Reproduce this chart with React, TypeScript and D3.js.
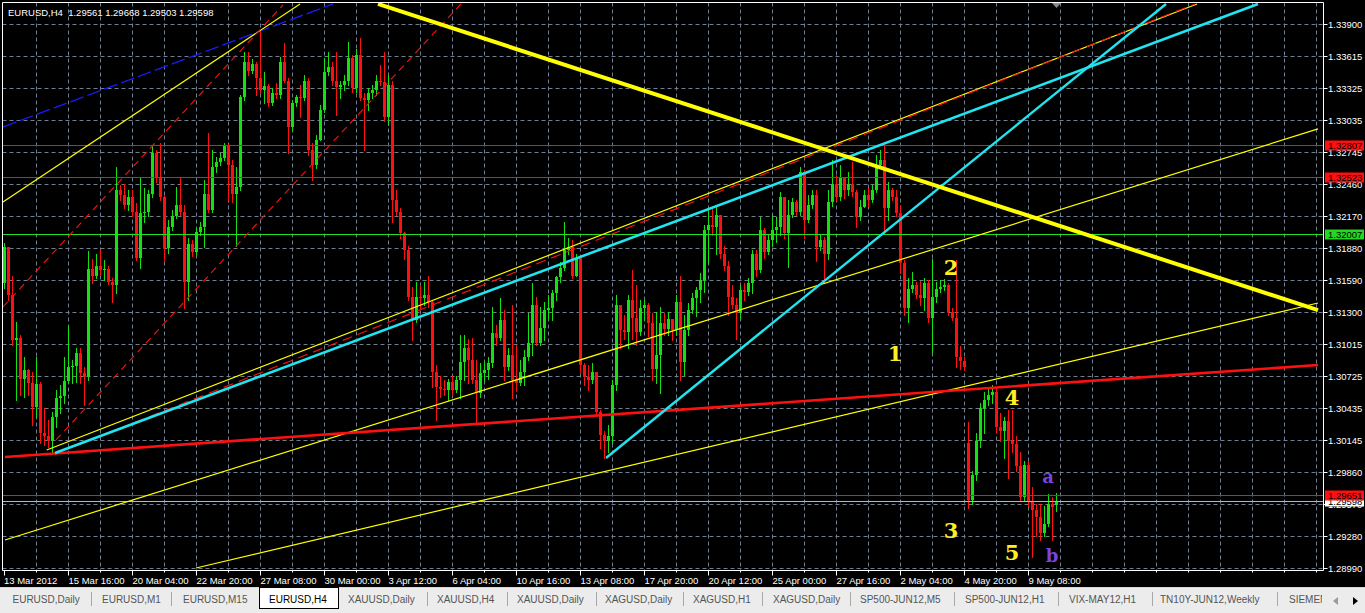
import React from 'react';
import * as d3 from 'd3';

const W = 1365;
const H = 613;

// ---- DATA ----
const symbolTitle = 'EURUSD,H4';
const lastOHLC = ['1.29561', '1.29668', '1.29503', '1.29598'];

const closes = [
  1.3189, 1.3145, 1.3105, 1.3107, 1.3070, 1.3078, 1.3066, 1.3044, 1.3065, 1.3021,
  1.3018, 1.3014, 1.3035, 1.3052, 1.3054, 1.3068, 1.3080, 1.3081, 1.3093, 1.3075,
  1.3071, 1.3169, 1.3163, 1.3172, 1.3168, 1.3169, 1.3157, 1.3154, 1.3240, 1.3236,
  1.3227, 1.3234, 1.3220, 1.3179, 1.3219, 1.3220, 1.3237, 1.3274, 1.3251, 1.3234,
  1.3188, 1.3207, 1.3217, 1.3227, 1.3220, 1.3157, 1.3191, 1.3184, 1.3202, 1.3207,
  1.3237, 1.3222, 1.3261, 1.3265, 1.3269, 1.3280, 1.3263, 1.3237, 1.3243, 1.3324,
  1.3356, 1.3348, 1.3354, 1.3341, 1.3330, 1.3334, 1.3319, 1.3328, 1.3326, 1.3356,
  1.3339, 1.3297, 1.3319, 1.3324, 1.3323, 1.3339, 1.3276, 1.3263, 1.3285, 1.3312,
  1.3347, 1.3351, 1.3339, 1.3333, 1.3335, 1.3339, 1.3359, 1.3332, 1.3362, 1.3323,
  1.3321, 1.3328, 1.3330, 1.3339, 1.3338, 1.3306, 1.3335, 1.3231, 1.3220, 1.3201,
  1.3186, 1.3144, 1.3123, 1.3144, 1.3143, 1.3145, 1.3139, 1.3076, 1.3062, 1.3061,
  1.3060, 1.3067, 1.3060, 1.3069, 1.3085, 1.3098, 1.3087, 1.3069, 1.3057, 1.3075,
  1.3078, 1.3084, 1.3111, 1.3107, 1.3123, 1.3080, 1.3091, 1.3069, 1.3066, 1.3076,
  1.3089, 1.3102, 1.3136, 1.3102, 1.3116, 1.3132, 1.3134, 1.3147, 1.3162, 1.3170,
  1.3186, 1.3189, 1.3163, 1.3179, 1.3082, 1.3071, 1.3069, 1.3076, 1.3040, 1.3019,
  1.3014, 1.3018, 1.3064, 1.3136, 1.3114, 1.3112, 1.3141, 1.3125, 1.3112, 1.3134,
  1.3136, 1.3120, 1.3079, 1.3091, 1.3120, 1.3115, 1.3124, 1.3114, 1.3139, 1.3085,
  1.3114, 1.3132, 1.3143, 1.3150, 1.3159, 1.3204, 1.3209, 1.3207, 1.3218, 1.3182,
  1.3172, 1.3144, 1.3136, 1.3129, 1.3150, 1.3148, 1.3156, 1.3182, 1.3168, 1.3204,
  1.3184, 1.3195, 1.3204, 1.3207, 1.3234, 1.3201, 1.3218, 1.3229, 1.3220, 1.3256,
  1.3213, 1.3227, 1.3236, 1.3189, 1.3195, 1.3182, 1.3229, 1.3246, 1.3234, 1.3251,
  1.3240, 1.3246, 1.3238, 1.3216, 1.3225, 1.3236, 1.3231, 1.3240, 1.3263, 1.3267,
  1.3224, 1.3240, 1.3234, 1.3219, 1.3174, 1.3134, 1.3151, 1.3154, 1.3145, 1.3143,
  1.3156, 1.3125, 1.3144, 1.3151, 1.3153, 1.3154, 1.3130, 1.3125, 1.3089, 1.3086,
  1.3080, 1.2960, 1.2983, 1.3014, 1.3043, 1.3051, 1.3055, 1.3058, 1.3026, 1.3023,
  1.3032, 1.3014, 1.3011, 1.2991, 1.2963, 1.2992, 1.2959, 1.2951, 1.2945, 1.2931,
  1.2939, 1.2957, 1.2954, 1.29598,
];

const highs = [
  1.3192, 1.3186, 1.3163, 1.3121, 1.3109, 1.3089, 1.3079, 1.3076, 1.3089, 1.3067,
  1.3043, 1.3033, 1.3040, 1.3060, 1.3064, 1.3089, 1.3117, 1.3087, 1.3098, 1.3098,
  1.3080, 1.3185, 1.3178, 1.3182, 1.3186, 1.3177, 1.3172, 1.3161, 1.3261, 1.3245,
  1.3246, 1.3240, 1.3240, 1.3228, 1.3251, 1.3242, 1.3240, 1.3281, 1.3276, 1.3283,
  1.3236, 1.3213, 1.3222, 1.3243, 1.3252, 1.3227, 1.3197, 1.3195, 1.3206, 1.3211,
  1.3249, 1.3292, 1.3276, 1.3270, 1.3274, 1.3283, 1.3282, 1.3267, 1.3261, 1.3326,
  1.3365, 1.3365, 1.3358, 1.3356, 1.3383, 1.3347, 1.3336, 1.3332, 1.3337, 1.3360,
  1.3373, 1.3341, 1.3321, 1.3326, 1.3335, 1.3344, 1.3341, 1.3283, 1.3290, 1.3317,
  1.3359, 1.3365, 1.3356, 1.3365, 1.3339, 1.3344, 1.3374, 1.3362, 1.3367, 1.3377,
  1.3328, 1.3332, 1.3335, 1.3344, 1.3353, 1.3365, 1.3344, 1.3339, 1.3240, 1.3224,
  1.3202, 1.3190, 1.3153, 1.3157, 1.3154, 1.3157, 1.3163, 1.3141, 1.3082, 1.3072,
  1.3069, 1.3070, 1.3072, 1.3072, 1.3109, 1.3109, 1.3106, 1.3107, 1.3087, 1.3084,
  1.3085, 1.3089, 1.3135, 1.3118, 1.3143, 1.3132, 1.3098, 1.3136, 1.3100, 1.3087,
  1.3096, 1.3129, 1.3156, 1.3144, 1.3135, 1.3139, 1.3145, 1.3150, 1.3163, 1.3175,
  1.3211, 1.3197, 1.3195, 1.3182, 1.3166, 1.3084, 1.3082, 1.3084, 1.3072, 1.3042,
  1.3023, 1.3028, 1.3069, 1.3145, 1.3135, 1.3127, 1.3145, 1.3168, 1.3154, 1.3141,
  1.3141, 1.3138, 1.3129, 1.3130, 1.3135, 1.3129, 1.3130, 1.3124, 1.3145, 1.3163,
  1.3127, 1.3138, 1.3147, 1.3153, 1.3165, 1.3209, 1.3224, 1.3225, 1.3227, 1.3218,
  1.3190, 1.3176, 1.3154, 1.3143, 1.3154, 1.3156, 1.3161, 1.3186, 1.3186, 1.3216,
  1.3206, 1.3200, 1.3218, 1.3216, 1.3238, 1.3234, 1.3231, 1.3233, 1.3231, 1.3261,
  1.3258, 1.3236, 1.3240, 1.3240, 1.3200, 1.3198, 1.3240, 1.3267, 1.3254, 1.3263,
  1.3247, 1.3256, 1.3265, 1.3240, 1.3231, 1.3240, 1.3242, 1.3245, 1.3272, 1.3276,
  1.3283, 1.3247, 1.3242, 1.3240, 1.3227, 1.3177, 1.3161, 1.3166, 1.3157, 1.3158,
  1.3161, 1.3159, 1.3178, 1.3157, 1.3159, 1.3160, 1.3156, 1.3134, 1.3177, 1.3099,
  1.3089, 1.3031, 1.2987, 1.3021, 1.3048, 1.3058, 1.3062, 1.3064, 1.3062, 1.3039,
  1.3035, 1.3042, 1.3042, 1.3018, 1.3004, 1.2996, 1.2996, 1.2972, 1.2957, 1.2957,
  1.2955, 1.2966, 1.2963, 1.29668,
];

const lows = [
  1.3152, 1.3141, 1.3100, 1.3051, 1.3055, 1.3053, 1.3055, 1.3028, 1.3035, 1.3012,
  1.3010, 1.3008, 1.3004, 1.3026, 1.3039, 1.3048, 1.3066, 1.3066, 1.3067, 1.3066,
  1.3046, 1.3069, 1.3156, 1.3161, 1.3164, 1.3159, 1.3155, 1.3139, 1.3147, 1.3231,
  1.3224, 1.3222, 1.3217, 1.3177, 1.3170, 1.3211, 1.3217, 1.3234, 1.3247, 1.3231,
  1.3177, 1.3183, 1.3204, 1.3215, 1.3218, 1.3134, 1.3141, 1.3181, 1.3182, 1.3200,
  1.3189, 1.3220, 1.3220, 1.3256, 1.3263, 1.3267, 1.3231, 1.3229, 1.3190, 1.3240,
  1.3321, 1.3344, 1.3346, 1.3326, 1.3328, 1.3319, 1.3316, 1.3317, 1.3323, 1.3323,
  1.3338, 1.3274, 1.3294, 1.3316, 1.3306, 1.3321, 1.3272, 1.3249, 1.3260, 1.3285,
  1.3311, 1.3344, 1.3335, 1.3308, 1.3323, 1.3330, 1.3335, 1.3329, 1.3329, 1.3321,
  1.3276, 1.3312, 1.3323, 1.3326, 1.3335, 1.3302, 1.3299, 1.3211, 1.3218, 1.3197,
  1.3178, 1.3141, 1.3105, 1.3121, 1.3134, 1.3136, 1.3135, 1.3062, 1.3033, 1.3053,
  1.3055, 1.3051, 1.3055, 1.3058, 1.3052, 1.3069, 1.3066, 1.3066, 1.3031, 1.3053,
  1.3069, 1.3070, 1.3080, 1.3100, 1.3105, 1.3069, 1.3078, 1.3052, 1.3060, 1.3064,
  1.3064, 1.3087, 1.3091, 1.3100, 1.3100, 1.3105, 1.3125, 1.3123, 1.3141, 1.3157,
  1.3168, 1.3182, 1.3161, 1.3166, 1.3076, 1.3064, 1.3060, 1.3066, 1.3037, 1.3007,
  1.2998, 1.3004, 1.3012, 1.3060, 1.3098, 1.3106, 1.3098, 1.3106, 1.3100, 1.3109,
  1.3123, 1.3108, 1.3069, 1.3066, 1.3057, 1.3109, 1.3109, 1.3105, 1.3109, 1.3069,
  1.3073, 1.3109, 1.3129, 1.3126, 1.3139, 1.3148, 1.3174, 1.3200, 1.3182, 1.3179,
  1.3168, 1.3127, 1.3134, 1.3106, 1.3125, 1.3141, 1.3145, 1.3147, 1.3163, 1.3166,
  1.3179, 1.3182, 1.3190, 1.3193, 1.3200, 1.3197, 1.3171, 1.3216, 1.3218, 1.3218,
  1.3197, 1.3211, 1.3224, 1.3176, 1.3186, 1.3156, 1.3178, 1.3226, 1.3231, 1.3231,
  1.3233, 1.3236, 1.3235, 1.3207, 1.3213, 1.3225, 1.3226, 1.3229, 1.3238, 1.3260,
  1.3201, 1.3213, 1.3231, 1.3217, 1.3165, 1.3127, 1.3121, 1.3148, 1.3143, 1.3136,
  1.3132, 1.3121, 1.3093, 1.3139, 1.3148, 1.3150, 1.3127, 1.3123, 1.3080, 1.3079,
  1.3078, 1.2953, 1.2957, 1.2978, 1.3008, 1.3021, 1.3046, 1.3048, 1.3022, 1.3014,
  1.2998, 1.2980, 1.3004, 1.2987, 1.2960, 1.2960, 1.2955, 1.2909, 1.2928, 1.2924,
  1.2928, 1.2937, 1.2924, 1.29503,
];

// opens equal the previous close except where the bar gapped
const openOverrides: [number, number][] = [[0, 1.3156], [241, 1.3012], [263, 1.29561]];

const timeLabels = [
  '13 Mar 2012', '15 Mar 16:00', '20 Mar 04:00', '22 Mar 20:00', '27 Mar 08:00',
  '30 Mar 00:00', '3 Apr 12:00', '6 Apr 04:00', '10 Apr 16:00', '13 Apr 08:00',
  '17 Apr 20:00', '20 Apr 12:00', '25 Apr 00:00', '27 Apr 16:00', '2 May 04:00',
  '4 May 20:00', '9 May 08:00',
];

const priceTicks = [
  1.339, 1.33615, 1.33325, 1.33035, 1.32745, 1.3246, 1.3217, 1.3188, 1.3159,
  1.313, 1.31015, 1.30725, 1.30435, 1.30145, 1.2986, 1.2957, 1.2928, 1.2899,
];

const redLevels = [1.32807, 1.32523, 1.29651];
const greenLevels = [1.32007];
const bidPrice = 1.29598;

// trend lines: [barIndex, price] pairs
const thickYellowLine = [[93.5, 1.34081], [328.5, 1.31318]];
const cyanUpperLine = [[12.75, 1.30028], [313.5, 1.34081]];
const cyanSteepLine = [[150.5, 1.29983], [290.5, 1.34081]];
const yellowChannelUpper = [[10.675, 1.30055], [298.25, 1.34081]];
const redChannelDashed = [[14, 1.30037], [297.75, 1.34081]];
const yellowChannelMid = [[0.25, 1.29243], [328.5, 1.32953]];
const yellowChannelLow = [[48, 1.2899], [328.5, 1.31382]];
const earlyYellowLine = [[-0.25, 1.32294], [74, 1.34081]];
const earlyBlueLine = [[-0.25, 1.32971], [82.25, 1.34081]];
const earlyRedLine1 = [[-0.25, 1.31346], [69.75, 1.34072]];
const earlyRedLine2 = [[13, 1.30146], [114.25, 1.34081]];
const supportRedLine = [[0.25, 1.29992], [328.5, 1.30822]];

const waveLabels = [
  { t: '1', i: 222.75, p: 1.30931 },
  { t: '2', i: 236.75, p: 1.31702 },
  { t: '3', i: 236.75, p: 1.29333 },
  { t: '4', i: 252, p: 1.30525 },
  { t: '5', i: 252, p: 1.29126 },
];
const subWaveLabels = [
  { t: 'a', i: 261, p: 1.29803 },
  { t: 'b', i: 262, p: 1.2909 },
];

const tabNames = [
  'EURUSD,Daily', 'EURUSD,M1', 'EURUSD,M15', 'EURUSD,H4', 'XAUUSD,Daily',
  'XAUUSD,H4', 'XAUUSD,Daily', 'XAGUSD,Daily', 'XAGUSD,H1', 'XAGUSD,Daily',
  'SP500-JUN12,M5', 'SP500-JUN12,H1', 'VIX-MAY12,H1', 'TN10Y-JUN12,Weekly', 'SIEMENS',
];
const activeTab = 3;

// ---- LAYOUT ----
const plotL = 2.5, plotT = 2.5, plotR = 1323.5, plotB = 570.5;
const tabTextX = [12.5, 102, 183, 269, 348, 437, 517, 605, 693, 773, 860, 965, 1069, 1160, 1289];
const tabSepX = [91.5, 171.5, 427.5, 507.5, 596.5, 683.5, 762.5, 850.5, 954.5, 1058.5, 1152.5, 1277.5];

const FONT = '"Liberation Sans", Arial, sans-serif';

export default function App() {
  const x = d3.scaleLinear().domain([0, closes.length - 1]).range([4, 4 + 4 * (closes.length - 1)]);
  const y = d3.scaleLinear().domain([1.2899, 1.339]).range([568, 24]);

  const overrides = new Map(openOverrides);
  const bars = closes.map((c, i) => {
    const o = overrides.has(i) ? (overrides.get(i) as number) : closes[i - 1];
    const h = Math.max(highs[i], o, c);
    const l = Math.min(lows[i], o, c);
    return { i, o, h, l, c };
  });

  const gridXs: number[] = [];
  for (let k = 8; x(k) <= 1320; k += 8) gridXs.push(Math.round(x(k)) + 0.5);

  const seg = (pts: number[][]) => ({
    x1: x(pts[0][0]), y1: y(pts[0][1]), x2: x(pts[1][0]), y2: y(pts[1][1]),
  });

  const green = '#14e014';
  const red = '#ff1010';
  const cyan = '#20e4f0';
  const yellow = '#ffff00';

  return (
    <svg
      width={W}
      height={H}
      viewBox={`0 0 ${W} ${H}`}
      style={{ position: 'absolute', left: 0, top: 0, display: 'block' }}
      fontFamily={FONT}
    >
      <defs>
        <clipPath id="plotClip">
          <rect x={plotL + 0.5} y={plotT + 0.5} width={plotR - plotL - 1} height={plotB - plotT - 1} />
        </clipPath>
        <clipPath id="tabClip">
          <rect x={0} y={586} width={1322} height={27} />
        </clipPath>
      </defs>

      <rect x={0} y={0} width={W} height={588} fill="#000" />

      {/* grid */}
      <g stroke="#6f7f8f" strokeWidth={1} strokeDasharray="4,3">
        {priceTicks.map((t) => (
          <line key={'h' + t} x1={plotL} x2={plotR} y1={Math.round(y(t)) + 0.5} y2={Math.round(y(t)) + 0.5} />
        ))}
        {gridXs.map((gx) => (
          <line key={'v' + gx} x1={gx} x2={gx} y1={plotT} y2={plotB} />
        ))}
      </g>

      {/* candles */}
      <g clipPath="url(#plotClip)">
        {bars.map((b) => {
          const px = Math.round(x(b.i));
          const up = b.c >= b.o;
          const col = up ? green : red;
          const yTop = Math.round(y(Math.max(b.o, b.c)));
          const yBot = Math.round(y(Math.min(b.o, b.c)));
          return (
            <g key={b.i}>
              <line x1={px + 0.5} x2={px + 0.5} y1={Math.round(y(b.h))} y2={Math.round(y(b.l)) + 1} stroke={col} strokeWidth={1} />
              <rect x={px - 1} y={yTop} width={3} height={Math.max(1, yBot - yTop)} fill={col} />
            </g>
          );
        })}
      </g>

      {/* horizontal levels */}
      <g>
        {redLevels.map((p) => (
          <line key={'r' + p} x1={plotL} x2={plotR} y1={Math.round(y(p)) + 0.5} y2={Math.round(y(p)) + 0.5} stroke={red} strokeWidth={1} />
        ))}
        {greenLevels.map((p) => (
          <line key={'g' + p} x1={plotL} x2={plotR} y1={Math.round(y(p)) + 0.5} y2={Math.round(y(p)) + 0.5} stroke="#22e022" strokeWidth={1} />
        ))}
        <line x1={plotL} x2={plotR} y1={Math.round(y(bidPrice)) + 0.5} y2={Math.round(y(bidPrice)) + 0.5} stroke="#b8b8b8" strokeWidth={1} />
      </g>

      {/* trend lines */}
      <g clipPath="url(#plotClip)" fill="none">
        <line {...seg(earlyBlueLine)} stroke="#1a1aff" strokeWidth={1.3} strokeDasharray="14,4" />
        <line {...seg(earlyYellowLine)} stroke={yellow} strokeWidth={1.2} />
        <line {...seg(earlyRedLine1)} stroke={red} strokeWidth={1.1} strokeDasharray="7,5" />
        <line {...seg(earlyRedLine2)} stroke={red} strokeWidth={1.1} strokeDasharray="7,5" />
        <line {...seg(yellowChannelUpper)} stroke={yellow} strokeWidth={1.2} />
        <line {...seg(redChannelDashed)} stroke={red} strokeWidth={1.1} strokeDasharray="10,6" />
        <line {...seg(yellowChannelMid)} stroke={yellow} strokeWidth={1.2} />
        <line {...seg(yellowChannelLow)} stroke={yellow} strokeWidth={1.2} />
        <line {...seg(supportRedLine)} stroke={red} strokeWidth={2.6} />
        <line {...seg(cyanUpperLine)} stroke={cyan} strokeWidth={2.6} />
        <line {...seg(cyanSteepLine)} stroke={cyan} strokeWidth={2.4} />
        <line {...seg(thickYellowLine)} stroke={yellow} strokeWidth={4} />
      </g>

      {/* wave labels */}
      <g fontFamily='"DejaVu Serif", "Liberation Serif", serif' fontWeight="bold" textAnchor="middle">
        {waveLabels.map((w) => (
          <text key={w.t} x={x(w.i)} y={y(w.p)} dy="0.36em" fontSize={21} fill="#ffee22">{w.t}</text>
        ))}
        {subWaveLabels.map((w) => (
          <text key={w.t} x={x(w.i)} y={y(w.p)} dy="0.3em" fontSize={18} fill="#7b44e0">{w.t}</text>
        ))}
      </g>

      {/* chart shift marker */}
      <path d={`M${x(263) - 4},3 L${x(263) + 5},3 L${x(263) + 0.5},8 Z`} fill="#8a8a8a" />

      {/* frame */}
      <g stroke="#fff" strokeWidth={1} fill="none">
        <line x1={plotL} x2={plotR} y1={plotT} y2={plotT} />
        <line x1={plotL} x2={plotL} y1={plotT} y2={plotB} />
        <line x1={plotR} x2={plotR} y1={plotT} y2={plotB} />
        <line x1={plotL} x2={plotR} y1={plotB} y2={plotB} />
      </g>

      {/* price axis */}
      <g fontSize={9.5} fill="#fff">
        {priceTicks.map((t) => {
          const ty = Math.round(y(t)) + 0.5;
          return (
            <g key={'pt' + t}>
              <line x1={plotR} x2={plotR + 4} y1={ty} y2={ty} stroke="#fff" />
              <text x={1328} y={ty} dy="0.36em">{t.toFixed(5)}</text>
            </g>
          );
        })}
      </g>

      {/* level labels */}
      <g fontSize={9.5}>
        {[bidPrice].map((p) => (
          <g key={'bl' + p}>
            <rect x={1325} y={Math.round(y(p)) - 4.5} width={39} height={10} fill="#fff" />
            <text x={1328} y={Math.round(y(p)) + 0.5} dy="0.36em" fill="#000">{p.toFixed(5)}</text>
          </g>
        ))}
        {redLevels.map((p) => (
          <g key={'rl' + p}>
            <rect x={1325} y={Math.round(y(p)) - 4.5} width={39} height={10} fill="#ff1010" />
            <text x={1328} y={Math.round(y(p)) + 0.5} dy="0.36em" fill="#000">{p.toFixed(5)}</text>
          </g>
        ))}
        {greenLevels.map((p) => (
          <g key={'gl' + p}>
            <rect x={1325} y={Math.round(y(p)) - 4.5} width={39} height={10} fill="#22d822" />
            <text x={1328} y={Math.round(y(p)) + 0.5} dy="0.36em" fill="#000">{p.toFixed(5)}</text>
          </g>
        ))}
      </g>

      {/* time axis */}
      <g fontSize={9.5} fill="#fff">
        {gridXs.map((gx) => (
          <line key={'mt' + gx} x1={gx} x2={gx} y1={plotB} y2={plotB + 2} stroke="#fff" />
        ))}
        {timeLabels.map((lab, k) => {
          const tx = Math.round(x(k * 16)) + 0.5;
          return (
            <g key={lab}>
              <line x1={tx} x2={tx} y1={plotB} y2={plotB + 5} stroke="#fff" />
              <text x={k === 0 ? 4 : tx} y={584}>{lab}</text>
            </g>
          );
        })}
      </g>

      {/* header */}
      <text x={8} y={15.5} fontSize={9.5} fill="#fff" style={{ whiteSpace: 'pre' }}>
        {symbolTitle + '  ' + lastOHLC.join(' ')}
      </text>

      {/* tab bar */}
      <rect x={0} y={587} width={W} height={26} fill="#ececec" />
      <line x1={0} x2={W} y1={587.5} y2={587.5} stroke="#d8d8d8" />
      <rect x={259.5} y={587.5} width={79} height={21} fill="#fff" stroke="#000" />
      <g stroke="#a8a8a8">
        {tabSepX.map((sx) => (
          <line key={'s' + sx} x1={sx} x2={sx} y1={592} y2={606} />
        ))}
      </g>
      <g fontSize={10} clipPath="url(#tabClip)">
        {tabNames.map((n, k) => (
          <text key={n + k} x={tabTextX[k]} y={603} fill={k === activeTab ? '#000' : '#555'}>{n}</text>
        ))}
      </g>
      <path d="M1333,601 L1338,597 L1338,605 Z" fill="#9a9a9a" />
      <path d="M1353,597 L1358,601 L1353,605 Z" fill="#000" />
    </svg>
  );
}
